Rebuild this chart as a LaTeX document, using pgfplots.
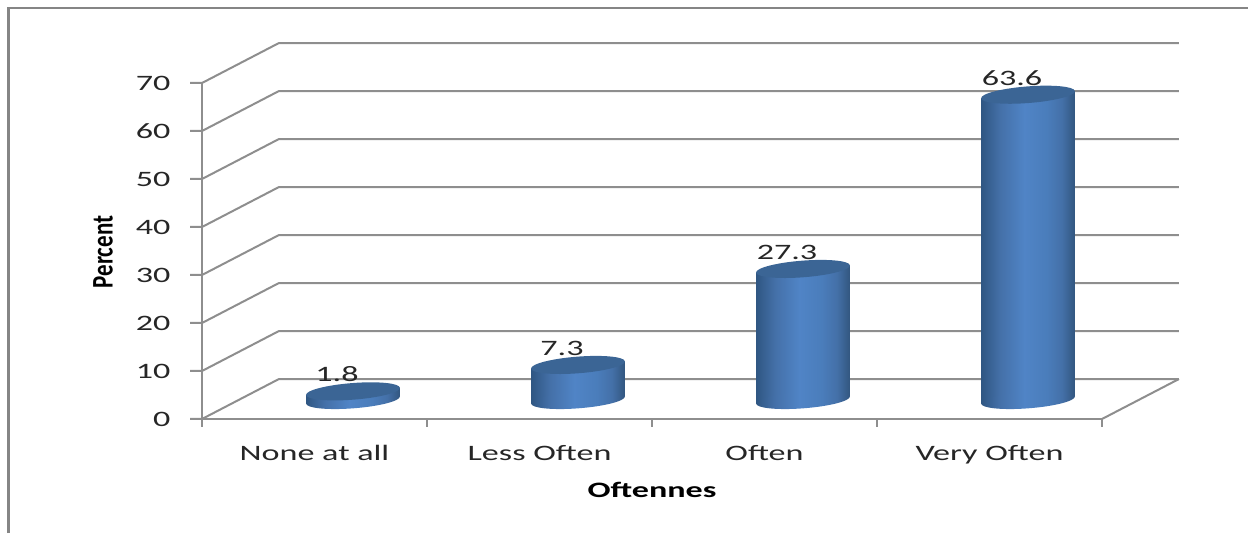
\documentclass[border=0pt]{standalone}
\usepackage{pgfplots}
\usepackage{pgfplotstable}
\pgfplotsset{compat=1.18}
\usepackage{fontspec}
\setmainfont{Carlito}
\newfontfamily\widefont[FakeStretch=1.55]{Carlito}
\newcommand{\labelfont}{\widefont\fontsize{22}{26}\selectfont}

\definecolor{gridgray}{HTML}{8E8E8E}
\definecolor{framegray}{HTML}{858585}
\definecolor{labelink}{HTML}{262626}
\definecolor{captop}{HTML}{3B6595}
\definecolor{cylA}{HTML}{2F5682}
\definecolor{cylB}{HTML}{4470A8}
\definecolor{cylC}{HTML}{5084C6}
\definecolor{cylD}{HTML}{4A7DBB}
\definecolor{cylE}{HTML}{32567F}

% Left-to-right light falloff of the cylinder bodies (visible range 25bp..75bp)
\pgfdeclarehorizontalshading{cylbody}{100bp}{
  color(0bp)=(cylA); color(25bp)=(cylA); color(35bp)=(cylB); color(48bp)=(cylC);
  color(60bp)=(cylD); color(68bp)=(cylB); color(75bp)=(cylE); color(100bp)=(cylE)}

% Tilted elliptical caps of a cylinder
\pgfdeclareplotmark{cyltop}{%
  \pgfpathellipse{\pgfpointorigin}{\pgfqpoint{46.9pt}{3.6pt}}{\pgfqpoint{-0.6pt}{8.3pt}}%
  \pgfusepathqfill}
\pgfdeclareplotmark{cylbase}{%
  \pgfpathellipse{\pgfpointorigin}{\pgfqpoint{46.9pt}{3.6pt}}{\pgfqpoint{-0.6pt}{8.3pt}}%
  \pgfshadepath{cylbody}{0}\pgfusepath{discard}}

\pgfplotstableread{
pos value
0 1.8
1 7.3
2 27.3
3 63.6
}\oftentable

\pgfplotsset{
  plane/.style={
    scale only axis, width=900pt, height=336pt,
    xmin=-0.5, xmax=3.5, ymin=0, ymax=70,
    anchor=south west, clip=false},
  gridline/.style={gridgray, line width=2pt, solid, no markers}}

% Body of one cylinder at category #1 with value #2: a slanted quadrilateral
% whose corners meet the ends of the tilted caps (half width 0.2084, tilt 0.75)
\newcommand{\cylinderbody}[2]{%
  \pgfmathsetmacro{\xl}{#1-0.2084}\pgfmathsetmacro{\xr}{#1+0.2084}%
  \pgfmathsetmacro{\yl}{#2-0.75}\pgfmathsetmacro{\yr}{#2+0.75}%
  \addplot[draw=none, no markers, shading=cylbody] coordinates
    {(\xl,-0.75) (\xr,0.75) (\xr,\yr) (\xl,\yl)} --cycle;}

\begin{document}
\begin{tikzpicture}[x=1pt,y=1pt]
\useasboundingbox (0,0) rectangle (1248,533);

% Outer chart frame, open to the right and below
\draw[framegray, line width=2.8pt] (8.8,0) -- (8.8,525) -- (1248,525);

% Axes, ticks and the receding gridlines
\begin{axis}[plane, at={(202pt,114pt)},
    axis x line*=bottom, axis y line*=left,
    axis line style={gridgray, line width=2pt, -},
    tick style={gridgray, line width=2pt},
    major tick length=8pt, tick align=outside,
    xtick={-0.5,0.5,1.5,2.5,3.5},
    x tick label as interval,
    xticklabels={None at all,Less Often,Often,Very Often},
    ytick={0,10,...,70},
    /pgf/number format/assume math mode=true,
    tick label style={font=\labelfont, text=labelink},
    xticklabel style={yshift=-15pt},
    yticklabel style={xshift=-20pt},
    xlabel={\widefont\fontsize{22}{26}\selectfont\bfseries Oftennes},
    xlabel style={at={(axis description cs:0.5,-0.211)}, anchor=center, text=black},
    ylabel={\scalebox{1}[1.3]{\fontsize{23}{26}\selectfont\bfseries Percent}},
    ylabel style={at={(axis description cs:-0.11,0.497)}, anchor=center, text=black},
  ]
  \addplot[gridline] coordinates {(-0.553,0) (-0.5,0) (-0.158,8.33) (3.842,8.33)};
  \addplot[gridline] coordinates {(3.5,0) (3.842,8.33)};
  \addplot[gridline] coordinates {(-0.553,10) (-0.5,10) (-0.158,18.33) (3.842,18.33)};
  \addplot[gridline] coordinates {(-0.553,20) (-0.5,20) (-0.158,28.33) (3.842,28.33)};
  \addplot[gridline] coordinates {(-0.553,30) (-0.5,30) (-0.158,38.33) (3.842,38.33)};
  \addplot[gridline] coordinates {(-0.553,40) (-0.5,40) (-0.158,48.33) (3.842,48.33)};
  \addplot[gridline] coordinates {(-0.553,50) (-0.5,50) (-0.158,58.33) (3.842,58.33)};
  \addplot[gridline] coordinates {(-0.553,60) (-0.5,60) (-0.158,68.33) (3.842,68.33)};
  \addplot[gridline] coordinates {(-0.553,70) (-0.5,70) (-0.158,78.33) (3.842,78.33)};
\end{axis}

% Cylinders, standing halfway into the floor's depth; one plot per body
% so that each takes the full width of the shading
\begin{axis}[plane, at={(240.5pt,133pt)}, hide axis]
  \addplot[only marks, mark=cylbase] table[x=pos,y expr=0] {\oftentable};
  \cylinderbody{0}{1.8}
  \cylinderbody{1}{7.3}
  \cylinderbody{2}{27.3}
  \cylinderbody{3}{63.6}
  \addplot[only marks, mark=cyltop, mark options={fill=captop, draw=none},
    nodes near coords,
    /pgf/number format/.cd, fixed, fixed zerofill, precision=1, assume math mode=true,
    /pgfplots/.cd,
    every node near coord/.append style={anchor=center, xshift=-16pt, yshift=17pt,
      font=\labelfont, text=labelink}]
    table[x=pos,y=value] {\oftentable};
\end{axis}
\end{tikzpicture}
\end{document}
